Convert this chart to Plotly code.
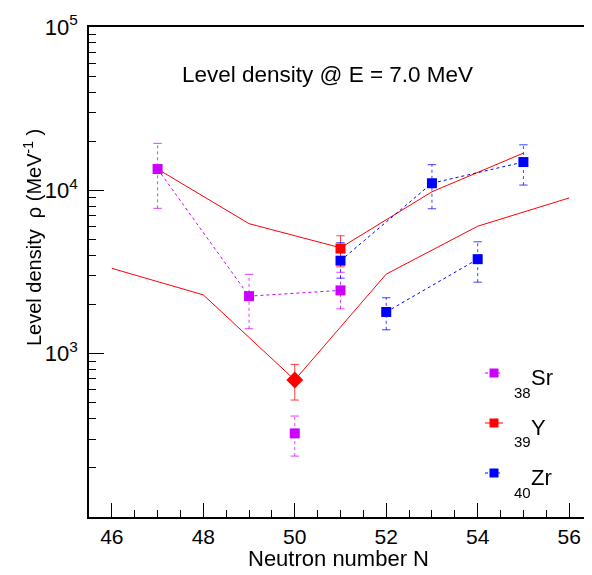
import plotly.graph_objects as go

# Datos (densidad de niveles a E = 7.0 MeV)
sr_n = [47, 49, 51]
sr_rho = [13500, 2250, 2440]
sr_lo = [7760, 1420, 1880]
sr_hi = [19400, 3060, 3150]

sr50_n = [50]
sr50_rho = [325]
sr50_lo = [236]
sr50_hi = [415]

y_n = [51]
y_rho = [4400]
y_lo = [3400]
y_hi = [5270]

y50_n = [50]
y50_rho = [690]
y50_lo = [520]
y50_hi = [860]

zr_odd_n = [51, 53, 55]
zr_odd_rho = [3710, 11050, 14900]
zr_odd_lo = [2900, 7710, 10770]
zr_odd_hi = [4780, 14360, 19000]

zr_even_n = [52, 54]
zr_even_rho = [1800, 3790]
zr_even_lo = [1400, 2740]
zr_even_hi = [2200, 4840]

# Curvas del modelo
model_up_n = [47, 49, 51, 53, 55]
model_up = [13500, 6250, 4450, 9800, 16900]
model_low_n = [46, 48, 50, 52, 54, 56]
model_low = [3330, 2290, 690, 3070, 6030, 8980]

x_ticks = [46, 48, 50, 52, 54, 56]
y_ticks = [1e3, 1e4, 1e5]
y_ticktext = ["10<sup>3</sup>", "10<sup>4</sup>", "10<sup>5</sup>"]

SR = "#cc00ff"
RED = "#ff0000"
ZR = "#0000ff"
FONT = "Liberation Sans"

# el body de la página tiene 8px de margen: se descuenta
OFF = 8
W, H = 592 - OFF, 575 - OFF
L, R, T, B = 89 - OFF, 0, 27 - OFF, 58


def px(x):
    # x en píxeles de pantalla -> coordenada paper
    return (x - OFF - L) / (W - L - R)


def py(y):
    return (H - B - (y - OFF)) / (H - T - B)


def add_errbars(fig, n, lo, hi, color, dash):
    xs, ys = [], []
    for xi, a, b in zip(n, lo, hi):
        xs += [xi, xi, None]
        ys += [a, b, None]
    fig.add_trace(go.Scatter(x=xs, y=ys, mode="lines",
                             line=dict(color=color, width=1, dash=dash),
                             opacity=0.75, showlegend=False, hoverinfo="skip"))
    fig.add_trace(go.Scatter(x=list(n) + list(n), y=list(lo) + list(hi), mode="markers",
                             marker=dict(symbol="line-ew", size=6,
                                         line=dict(color=color, width=1)),
                             opacity=0.75, showlegend=False, hoverinfo="skip"))


fig = go.Figure()

# modelo
fig.add_trace(go.Scatter(x=model_up_n, y=model_up, mode="lines",
                         line=dict(color=RED, width=1), showlegend=False))
fig.add_trace(go.Scatter(x=model_low_n, y=model_low, mode="lines",
                         line=dict(color=RED, width=1), showlegend=False))

# barras de error
add_errbars(fig, sr_n, sr_lo, sr_hi, SR, "3px,3px")
add_errbars(fig, sr50_n, sr50_lo, sr50_hi, SR, "3px,3px")
add_errbars(fig, y_n, y_lo, y_hi, RED, "solid")
add_errbars(fig, y50_n, y50_lo, y50_hi, RED, "solid")
add_errbars(fig, zr_odd_n, zr_odd_lo, zr_odd_hi, ZR, "3px,3px")
add_errbars(fig, zr_even_n, zr_even_lo, zr_even_hi, ZR, "3px,3px")

# puntos experimentales
sq = dict(symbol="square", size=10, line=dict(width=0))
fig.add_trace(go.Scatter(x=sr_n, y=sr_rho, mode="lines+markers",
                         line=dict(color=SR, width=1, dash="3px,3px"),
                         marker=dict(color=SR, **sq), showlegend=False))
fig.add_trace(go.Scatter(x=sr50_n, y=sr50_rho, mode="markers",
                         marker=dict(color=SR, **sq), showlegend=False))
fig.add_trace(go.Scatter(x=zr_odd_n, y=zr_odd_rho, mode="lines+markers",
                         line=dict(color=ZR, width=1, dash="3px,3px"),
                         marker=dict(color=ZR, **sq), showlegend=False))
fig.add_trace(go.Scatter(x=zr_even_n, y=zr_even_rho, mode="lines+markers",
                         line=dict(color=ZR, width=1, dash="3px,3px"),
                         marker=dict(color=ZR, **sq), showlegend=False))
fig.add_trace(go.Scatter(x=y_n, y=y_rho, mode="markers",
                         marker=dict(color=RED, **sq), showlegend=False))
fig.add_trace(go.Scatter(x=y50_n, y=y50_rho, mode="markers",
                         marker=dict(color=RED, symbol="diamond", size=13),
                         showlegend=False))

# leyenda manual
leg = [("Sr", "38", SR, "dash", 373), ("Y", "39", RED, "solid", 423), ("Zr", "40", ZR, "dash", 473)]
shapes = []
annotations = []
for name, z, col, dsh, yc in leg:
    shapes.append(dict(type="line", xref="paper", yref="paper",
                       x0=px(485), x1=px(503), y0=py(yc), y1=py(yc),
                       line=dict(color=col, width=1, dash="dot" if dsh == "dash" else "solid")))
    shapes.append(dict(type="rect", xref="paper", yref="paper",
                       x0=px(489.5), x1=px(498.5), y0=py(yc - 4.5), y1=py(yc + 4.5),
                       fillcolor=col, line=dict(width=0)))
    annotations.append(dict(text=name, xref="paper", yref="paper", x=px(529), y=py(yc + 4),
                            xanchor="left", yanchor="middle", showarrow=False,
                            font=dict(family=FONT, size=22, color="black")))
    annotations.append(dict(text=z, xref="paper", yref="paper", x=px(512), y=py(yc + 19),
                            xanchor="left", yanchor="middle", showarrow=False,
                            font=dict(family=FONT, size=15, color="black")))

annotations.append(dict(text="Level density @ E = 7.0 MeV", xref="paper", yref="paper",
                        x=px(327), y=py(75), xanchor="center", yanchor="middle",
                        showarrow=False, font=dict(family=FONT, size=22.5, color="black")))
annotations.append(dict(text="Level density  \u03c1 (MeV<sup>-1</sup> )", xref="paper", yref="paper",
                        x=px(33), y=py(238), xanchor="center", yanchor="middle", textangle=-90,
                        showarrow=False, font=dict(family=FONT, size=20, color="black")))
annotations.append(dict(text="Neutron number N", xref="paper", yref="paper",
                        x=px(338), y=py(558), xanchor="center", yanchor="middle",
                        showarrow=False, font=dict(family=FONT, size=22, color="black")))

fig.update_layout(
    width=W, height=H,
    margin=dict(l=L, r=R, t=T, b=B),
    plot_bgcolor="white", paper_bgcolor="white",
    font=dict(family=FONT, size=21, color="black"),
    shapes=shapes, annotations=annotations,
    showlegend=False,
    xaxis=dict(range=[45.5, 56.5], tickvals=x_ticks, ticks="inside", ticklen=14,
               tickcolor="black", showgrid=False, zeroline=False, automargin=False,
               showline=True, linecolor="black", linewidth=1.5, mirror=True,
               minor=dict(ticks="inside", ticklen=7, dtick=0.5, tickcolor="black", showgrid=False)),
    yaxis=dict(type="log", range=[2, 5], tickvals=y_ticks, ticktext=y_ticktext,
               ticks="inside", ticklen=15, tickcolor="black", showgrid=False, automargin=False,
               showline=True, linecolor="black", linewidth=1.5, mirror=True,
               ticklabelstandoff=5,
               minor=dict(ticks="inside", ticklen=7, tickcolor="black", showgrid=False,
                          tickvals=[k * 10 ** e for e in (2, 3, 4) for k in range(2, 10)]),
               tickfont=dict(size=22)),
)

fig.write_html("out.html")
